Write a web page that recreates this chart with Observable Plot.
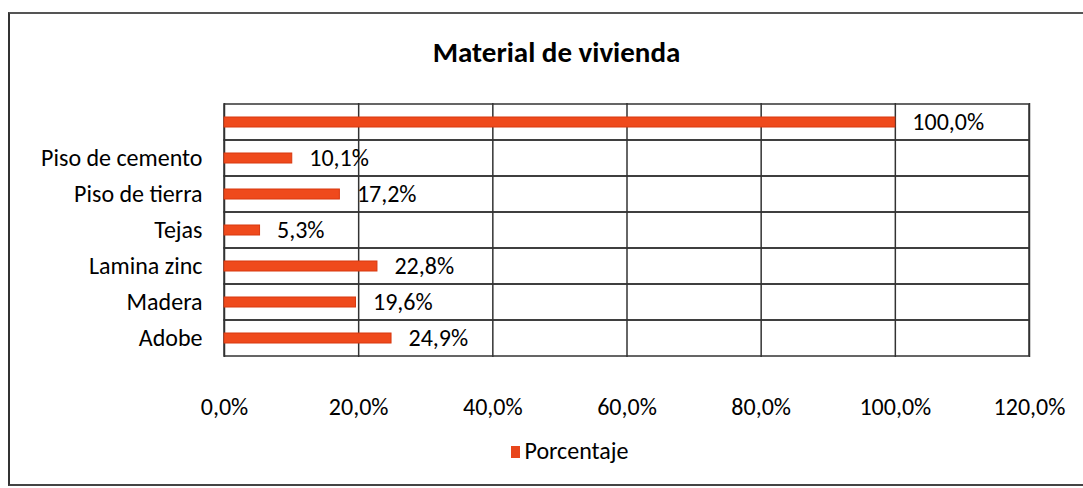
<!DOCTYPE html>
<html>
<head>
<meta charset="utf-8">
<script src="https://cdn.jsdelivr.net/npm/d3@7"></script>
<script src="https://cdn.jsdelivr.net/npm/@observablehq/plot@0.6"></script>
<style>
  html, body { margin: 0; padding: 0; background: #fff; }
  body { width: 1083px; height: 488px; position: relative; overflow: hidden; font-family: Carlito, Lato, "Open Sans", sans-serif; }
  #frame { position: absolute; left: 8px; top: 12px; width: 1100px; height: 470px; border-left: 2px solid #333; border-top: 2px solid #555; border-bottom: 2px solid #444; }
  #title { position: absolute; left: 0; top: 0; width: 1083px; height: 98px; }
  #title div { position: absolute; left: 30px; right: 0; top: 34px; text-align: center; font-weight: bold; font-size: 29px; color: #000; }
  #chart { position: absolute; left: 0; top: 98px; }
  #legend { position: absolute; left: 0; top: 436px; width: 1083px; text-align: center; font-size: 24px; color: #000; padding-left: 56px; box-sizing: border-box; }
  #legend span.sw { display: inline-block; width: 9px; height: 12px; background: #e8461c; margin-right: 5px; vertical-align: 1px; }
</style>
</head>
<body>
<div id="frame"></div>
<div id="title"><div>Material de vivienda</div></div>
<div id="chart"></div>
<div id="legend"><span class="sw"></span>Porcentaje</div>
<script>
const categories = ["", "Piso de cemento", "Piso de tierra", "Tejas", "Lamina zinc", "Madera", "Adobe"];
const values = [100.0, 10.1, 17.2, 5.3, 22.8, 19.6, 24.9];
const xTicks = [0, 20, 40, 60, 80, 100, 120];
const seriesName = "Porcentaje";

const data = categories.map((c, i) => ({cat: c, value: values[i]}));
const fmt = v => v.toFixed(1).replace(".", ",") + "%";

const plot = Plot.plot({
  width: 1083,
  height: 330,
  marginTop: 5,
  marginBottom: 71,
  marginLeft: 224,
  marginRight: 54,
  style: {fontFamily: "Carlito, Lato, 'Open Sans', sans-serif", fontSize: "24px", color: "#000", background: "transparent"},
  x: {domain: [0, 120], ticks: xTicks, tickFormat: fmt, tickSize: 0, tickPadding: 40, label: null},
  y: {domain: categories, padding: 0, tickSize: 0, tickPadding: 22, label: null},
  marks: [
    Plot.ruleX(xTicks, {stroke: "#333", strokeWidth: 1.5}),
    Plot.barX(categories, {y: d => d, x1: 0, x2: 120, fill: "none", stroke: "#333", strokeWidth: 1.5}),
    Plot.barX(data, {y: "cat", x: "value", fill: "#ef4a1c", stroke: "#d8380f", strokeWidth: 1, insetTop: 13, insetBottom: 13}),
    Plot.text(data, {y: "cat", x: "value", text: d => fmt(d.value), textAnchor: "start", dx: 17, fontSize: 24, fill: "#000"})
  ]
});
document.getElementById("chart").appendChild(plot);
</script>
</body>
</html>
